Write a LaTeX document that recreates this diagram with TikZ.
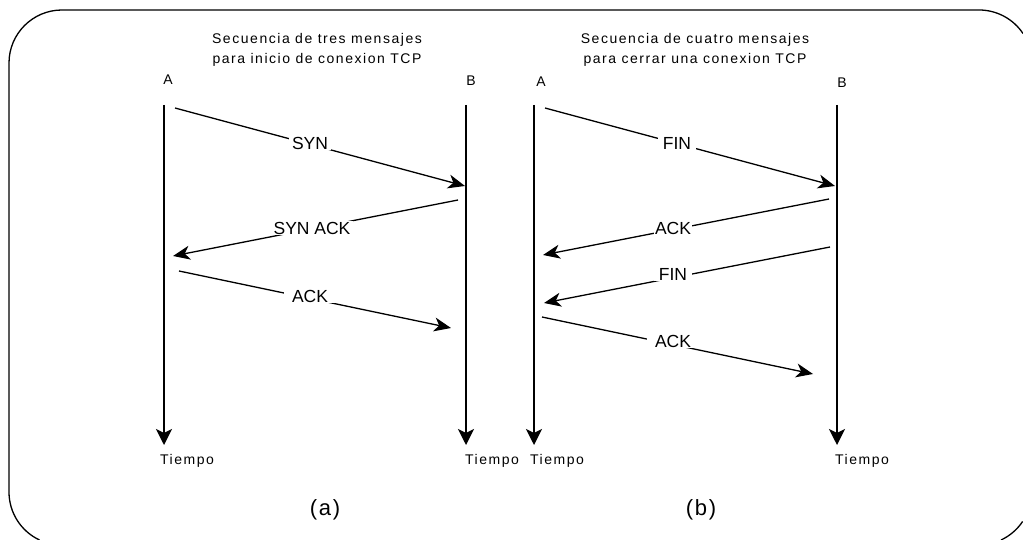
\documentclass[tikz,border=0pt]{standalone}
\usepackage{fontspec}
\setmainfont{Liberation Sans}
\newfontfamily\spacedfont[LetterSpace=11]{Liberation Sans}
\newfontfamily\capfont[LetterSpace=8]{Liberation Sans}
\usetikzlibrary{arrows.meta}
\begin{document}
\begin{tikzpicture}[x=1pt,y=-1pt,
  frame/.style={line width=1.3pt},
  timeline/.style={line width=1.4pt, -{Stealth[length=16pt,width=16pt,inset=4pt]}},
  msg/.style={line width=1.3pt, -{Stealth[length=17pt,width=14pt,inset=5pt]}},
  msglabel/.style={fill=white, inner xsep=3pt, inner ysep=1pt, font=\fontsize{17.5}{20}\selectfont},
  small/.style={font=\spacedfont\fontsize{14}{20}\selectfont, inner sep=0pt},
  title/.style={small, align=center},
  caption/.style={font=\capfont\fontsize{22}{26}\selectfont, inner sep=0pt}
]
\useasboundingbox (0,0) rectangle (1023,540);
% frame (its right and bottom edges lie outside the picture)
\draw[frame] (1023,33.5) arc[start angle=-33.8, end angle=-90, radius=53]
  -- (62,10) arc[start angle=-90, end angle=-180, radius=53]
  -- (9,492) arc[start angle=180, end angle=115, radius=53];
\draw[frame] (1001,540) arc[start angle=65, end angle=33.8, radius=53];

% ---------- panel (a)
\node[title] (ta) at (317,50) {Secuencia de tres mensajes\\para inicio de conexion TCP};
\node[small] (la) at (168,80) {A};
\node[small] (lb) at (471,81) {B};
\coordinate (aA1) at (164,105); \coordinate (aA2) at (164,445);
\coordinate (aB1) at (466,105); \coordinate (aB2) at (466,445);
\draw[timeline] (aA1) -- (aA2);
\draw[timeline] (aB1) -- (aB2);
\node[small] (tA) at (187,461) {Tiempo};
\node[small] (tB) at (492,461) {Tiempo};

\coordinate (s1) at (175,108); \coordinate (s2) at (465,186);
\draw[msg] (s1) -- (s2);
\node[msglabel] (syn) at (310,143) {SYN};
\coordinate (sa1) at (458,200); \coordinate (sa2) at (173,256);
\draw[msg] (sa1) -- (sa2);
\node[msglabel] (synack) at (312,228) {SYN ACK};
\coordinate (k1) at (179,271); \coordinate (k2) at (451,328);
\draw[msg] (k1) -- (k2);
\node[msglabel, inner xsep=8pt] (ack) at (310,296) {ACK};
\node[caption] (capa) at (325,510) {(a)};

% ---------- panel (b)
\node[title] (tb) at (695,50) {Secuencia de cuatro mensajes\\para cerrar una conexion TCP};
\node[small] (ra) at (541,82) {A};
\node[small] (rb) at (842,83) {B};
\coordinate (bA1) at (534,105); \coordinate (bA2) at (534,445);
\coordinate (bB1) at (837,105); \coordinate (bB2) at (837,445);
\draw[timeline] (bA1) -- (bA2);
\draw[timeline] (bB1) -- (bB2);
\node[small] (tA2) at (557,461) {Tiempo};
\node[small] (tB2) at (862,461) {Tiempo};

\coordinate (f1) at (545,108); \coordinate (f2) at (835,186);
\draw[msg] (f1) -- (f2);
\node[msglabel, inner xsep=5pt] (fin) at (677,143) {FIN};
\coordinate (a1) at (829,199); \coordinate (a2) at (543,255);
\draw[msg] (a1) -- (a2);
\node[msglabel, inner xsep=1pt] (ackb) at (673,228) {ACK};
\coordinate (g1) at (830,247); \coordinate (g2) at (544,303);
\draw[msg] (g1) -- (g2);
\node[msglabel, inner xsep=5pt] (fin2) at (673,274) {FIN};
\coordinate (h1) at (542,317); \coordinate (h2) at (813,374);
\draw[msg] (h1) -- (h2);
\node[msglabel, inner xsep=8pt] (ack2) at (673,341) {ACK};
\node[caption] (capb) at (701,510) {(b)};
\end{tikzpicture}
\end{document}
